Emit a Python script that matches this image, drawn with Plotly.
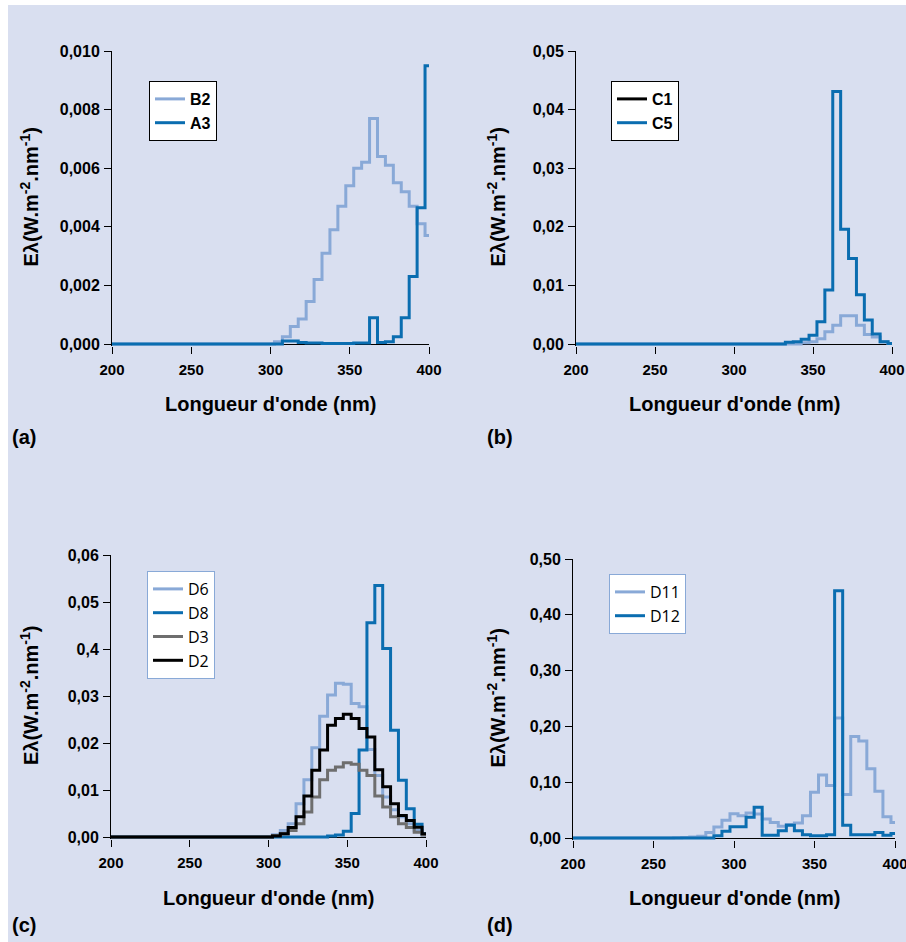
import plotly.graph_objects as go

W, H = 906, 942

# ---------------- data ----------------
WL = [200, 205, 210, 215, 220, 225, 230, 235, 240, 245, 250, 255, 260, 265, 270,
      275, 280, 285, 290, 295, 300, 305, 310, 315, 320, 325, 330, 335, 340, 345,
      350, 355, 360, 365, 370, 375, 380, 385, 390, 395, 400]

# (a)
B2 = [0, 0, 0, 0, 0, 0, 0, 0, 0, 0, 0, 0, 0, 0, 0, 0, 0, 0, 0, 0, 0,
      0.00008, 0.00025, 0.0006, 0.00085, 0.00145, 0.0022, 0.0031, 0.0039, 0.0047, 0.0054,
      0.006, 0.0062, 0.0077, 0.0064, 0.0061, 0.0055, 0.0052, 0.0047, 0.0041, 0.0037]
A3 = [0, 0, 0, 0, 0, 0, 0, 0, 0, 0, 0, 0, 0, 0, 0, 0, 0, 0, 0, 0, 0, 0,
      0.0001, 0.0001, 0.00005, 0.00003, 0.00003, 0.00002, 0.00002, 0.00002, 0.00002, 0.00003,
      0.00003, 0.0009, 0.00005, 0.00008, 0.00025, 0.0009, 0.0023, 0.00465, 0.0095]
# (b)
C1 = [0, 0, 0, 0, 0, 0, 0, 0, 0, 0, 0, 0, 0, 0, 0, 0, 0, 0, 0, 0, 0, 0, 0, 0, 0, 0, 0, 0, 0,
      0.0002, 0.0004, 0.0009, 0.0021, 0.0032, 0.0048, 0.0048, 0.0032, 0.0016, 0.0012, 0.0004, 0.0001]
C5 = [0, 0, 0, 0, 0, 0, 0, 0, 0, 0, 0, 0, 0, 0, 0, 0, 0, 0, 0, 0, 0, 0, 0, 0, 0, 0, 0,
      0.0003, 0.0004, 0.0008, 0.0015, 0.0038, 0.0092, 0.0431, 0.0196, 0.0146, 0.0084, 0.0041,
      0.0017, 0.0004, 0.0001]
# (c)
D6 = [0, 0, 0, 0, 0, 0, 0, 0, 0, 0, 0, 0, 0, 0, 0, 0, 0, 0, 0, 0, 0,
      0.0005, 0.0014, 0.0028, 0.0071, 0.0122, 0.019, 0.0257, 0.0302, 0.0327, 0.0325,
      0.0284, 0.0277, 0.0186, 0.0131, 0.0085, 0.0058, 0.0043, 0.0028, 0.0014, 0.0004]
D8 = [0, 0, 0, 0, 0, 0, 0, 0, 0, 0, 0, 0, 0, 0, 0, 0, 0, 0, 0, 0, 0, 0, 0, 0, 0, 0, 0, 0,
      0.0002, 0.0004, 0.0012, 0.005, 0.0185, 0.0456, 0.0535, 0.0401, 0.0227, 0.0121, 0.006,
      0.0027, 0.0007]
D3 = [0, 0, 0, 0, 0, 0, 0, 0, 0, 0, 0, 0, 0, 0, 0, 0, 0, 0, 0, 0, 0,
      0.0003, 0.0007, 0.0014, 0.0028, 0.0053, 0.0085, 0.0122, 0.0142, 0.0149, 0.0158,
      0.0155, 0.0142, 0.0131, 0.0087, 0.0064, 0.0043, 0.0028, 0.002, 0.001, 0.0004]
D2 = [0, 0, 0, 0, 0, 0, 0, 0, 0, 0, 0, 0, 0, 0, 0, 0, 0, 0, 0, 0, 0,
      0.0002, 0.0007, 0.002, 0.0043, 0.0087, 0.0142, 0.0185, 0.0238, 0.0252, 0.0261,
      0.0252, 0.0231, 0.0213, 0.0143, 0.0107, 0.0071, 0.0046, 0.0035, 0.0021, 0.0007]
# (d)
D11 = [0, 0, 0, 0, 0, 0, 0, 0, 0, 0, 0, 0, 0,
       0.0005, 0.001, 0.002, 0.003, 0.01, 0.0197, 0.0316, 0.0436, 0.04, 0.0448, 0.043,
       0.034, 0.028, 0.021, 0.024, 0.027, 0.04, 0.082, 0.113, 0.094, 0.215, 0.078,
       0.182, 0.174, 0.124, 0.084, 0.038, 0.028]
D12 = [0, 0, 0, 0, 0, 0, 0, 0, 0, 0, 0, 0, 0, 0, 0, 0, 0, 0,
       0.004, 0.012, 0.02, 0.02, 0.037, 0.055, 0.005, 0.005, 0.013, 0.023, 0.013, 0.006,
       0.004, 0.004, 0.006, 0.443, 0.023, 0.006, 0.006, 0.006, 0.01, 0.005, 0.008]

X_TICKS = [200, 250, 300, 350, 400]
X_TICKTEXT = ["200", "250", "300", "350", "400"]

YT_A = [0, 0.002, 0.004, 0.006, 0.008, 0.010]
YL_A = ["0,000", "0,002", "0,004", "0,006", "0,008", "0,010"]
YT_B = [0, 0.01, 0.02, 0.03, 0.04, 0.05]
YL_B = ["0,00", "0,01", "0,02", "0,03", "0,04", "0,05"]
YT_C = [0, 0.01, 0.02, 0.03, 0.04, 0.05, 0.06]
YL_C = ["0,00", "0,01", "0,02", "0,03", "0,4", "0,05", "0,06"]
YT_D = [0, 0.1, 0.2, 0.3, 0.4, 0.5]
YL_D = ["0,00", "0,10", "0,20", "0,30", "0,40", "0,50"]

X_TITLE = "Longueur d'onde (nm)"
Y_TITLE = "E\u03bb(W.m<sup>-2</sup>.nm<sup>-1</sup>)"

# ---------------- style ----------------
BG = "#d9dff0"
LIGHT = "#89a9d7"
DARK = "#0a6db0"
GRAY = "#6e6e6e"
BLACK = "#000000"
FONT = "Liberation Sans"
LW = 3

fig = go.Figure()

panels = [
    dict(n="", m="5", x0=112, x1=429, ytop=51, yzero=344, ymax=0.010, tv=YT_A, tt=YL_A,
         label="(a)", lx=10, ly=437, xt_y=404, yt_x=29),
    dict(n="2", m="6", x0=576, x1=892, ytop=51, yzero=344, ymax=0.05, tv=YT_B, tt=YL_B,
         label="(b)", lx=485, ly=437, xt_y=404, yt_x=496),
    dict(n="3", m="7", x0=111, x1=426, ytop=555, yzero=837, ymax=0.06, tv=YT_C, tt=YL_C,
         label="(c)", lx=10, ly=925, xt_y=898, yt_x=29),
    dict(n="4", m="8", x0=573, x1=895, ytop=559, yzero=838, ymax=0.5, tv=YT_D, tt=YL_D,
         label="(d)", lx=485, ly=925, xt_y=898, yt_x=496),
]

PAD = 2  # px below zero so the zero-level lines are not clipped

annotations = []
for p in panels:
    n, m = p["n"], p["m"]
    span = p["yzero"] - p["ytop"]
    eps = p["ymax"] * PAD / span
    xd = [p["x0"] / W, p["x1"] / W]
    yd = [1 - (p["yzero"] + PAD) / H, 1 - p["ytop"] / H]
    fig.layout["xaxis" + n] = dict(
        domain=xd, range=[200, 400], anchor="y" + n,
        tickvals=X_TICKS, ticktext=X_TICKTEXT,
        ticks="outside", ticklen=7, tickwidth=1, tickcolor=BLACK,
        showline=False, showgrid=False, zeroline=False, automargin=False,
        tickfont=dict(family=FONT, size=15, color=BLACK, weight="bold"),
        ticklabelstandoff=3, ticklabeloverflow="allow", fixedrange=True,
    )
    fig.layout["yaxis" + n] = dict(
        domain=yd, range=[-eps, p["ymax"]], anchor="x" + n,
        tickvals=p["tv"], ticktext=p["tt"],
        ticks="outside", ticklen=7, tickwidth=1, tickcolor=BLACK,
        showline=True, linecolor=BLACK, linewidth=1, automargin=False,
        showgrid=False, zeroline=True, zerolinecolor=BLACK, zerolinewidth=1,
        tickfont=dict(family=FONT, size=16, color=BLACK, weight="bold"),
        ticklabelstandoff=1, ticklabeloverflow="allow", fixedrange=True,
    )
    # overlay axes that add the inner half of the crossing tick marks
    fig.layout["xaxis" + m] = dict(
        domain=xd, range=[200, 400], anchor="y" + n, overlaying="x" + n,
        tickvals=X_TICKS, ticks="inside", ticklen=5, tickwidth=1, tickcolor=BLACK,
        showticklabels=False, showline=False, showgrid=False, zeroline=False,
        automargin=False, fixedrange=True,
    )
    fig.layout["yaxis" + m] = dict(
        domain=yd, range=[-eps, p["ymax"]], anchor="x" + n, overlaying="y" + n,
        tickvals=p["tv"], ticks="inside", ticklen=3, tickwidth=1, tickcolor=BLACK,
        showticklabels=False, showline=False, showgrid=False, zeroline=False,
        automargin=False, fixedrange=True,
    )
    cx = (p["x0"] + p["x1"]) / 2
    annotations.append(dict(
        text=X_TITLE, x=cx / W, y=1 - p["xt_y"] / H, xref="paper", yref="paper",
        xanchor="center", yanchor="middle", showarrow=False,
        font=dict(family=FONT, size=20, color=BLACK, weight="bold")))
    annotations.append(dict(
        text=Y_TITLE, x=p["yt_x"] / W, y=1 - (p["ytop"] + p["yzero"]) / 2 / H,
        xref="paper", yref="paper", xanchor="center", yanchor="middle",
        textangle=-90, showarrow=False,
        font=dict(family=FONT, size=20, color=BLACK, weight="bold")))
    annotations.append(dict(
        text=p["label"], x=p["lx"] / W, y=1 - p["ly"] / H, xref="paper", yref="paper",
        xanchor="left", yanchor="middle", showarrow=False,
        font=dict(family=FONT, size=20, color=BLACK, weight="bold")))


def step(name, y, color, n, legend, showlegend=True):
    return go.Scatter(
        x=WL, y=y, name=name, mode="lines", line=dict(color=color, width=LW, shape="hvh"),
        xaxis="x" + n, yaxis="y" + n, legend=legend, showlegend=showlegend,
        hoverinfo="skip")


# (a)
fig.add_trace(step("B2", B2, LIGHT, "", "legend"))
fig.add_trace(step("A3", A3, DARK, "", "legend"))
# (b) — legend swatch for C1 is black in the original
fig.add_trace(go.Scatter(x=[None], y=[None], name="C1", mode="lines",
                         line=dict(color=BLACK, width=LW), xaxis="x2", yaxis="y2",
                         legend="legend2"))
fig.add_trace(step("C1", C1, LIGHT, "2", "legend2", showlegend=False))
fig.add_trace(step("C5", C5, DARK, "2", "legend2"))
# (c)
fig.add_trace(step("D6", D6, LIGHT, "3", "legend3"))
fig.add_trace(step("D8", D8, DARK, "3", "legend3"))
fig.add_trace(step("D3", D3, GRAY, "3", "legend3"))
fig.add_trace(step("D2", D2, BLACK, "3", "legend3"))
# (d)
fig.add_trace(step("D11", D11, LIGHT, "4", "legend4"))
fig.add_trace(step("D12", D12, DARK, "4", "legend4"))

leg_bold = dict(family=FONT, size=16, color=BLACK, weight="bold")
leg_reg = dict(family="Open Sans", size=16, color=BLACK)


def legend(x, y, border, font):
    return dict(x=x / W, y=1 - y / H, xref="paper", yref="paper",
                xanchor="left", yanchor="top", bgcolor="white",
                bordercolor=border, borderwidth=1, font=font,
                itemwidth=30, tracegroupgap=0, traceorder="normal")


fig.update_layout(
    width=W, height=H,
    margin=dict(l=0, r=0, t=0, b=0, autoexpand=False),
    paper_bgcolor="white", plot_bgcolor="rgba(0,0,0,0)",
    showlegend=True,
    legend=legend(149, 81, BLACK, leg_bold),
    legend2=legend(611, 81, BLACK, leg_bold),
    legend3=legend(147, 571, LIGHT, leg_reg),
    legend4=legend(609, 574, LIGHT, leg_reg),
    annotations=annotations,
    shapes=[dict(type="rect", xref="paper", yref="paper", x0=8 / W, x1=1,
                 y0=0, y1=1 - 5 / H, fillcolor=BG, line=dict(width=0), layer="below")],
)

fig.write_html("out.html", config={"displayModeBar": False},
               post_script="document.body.style.margin='0px';")
